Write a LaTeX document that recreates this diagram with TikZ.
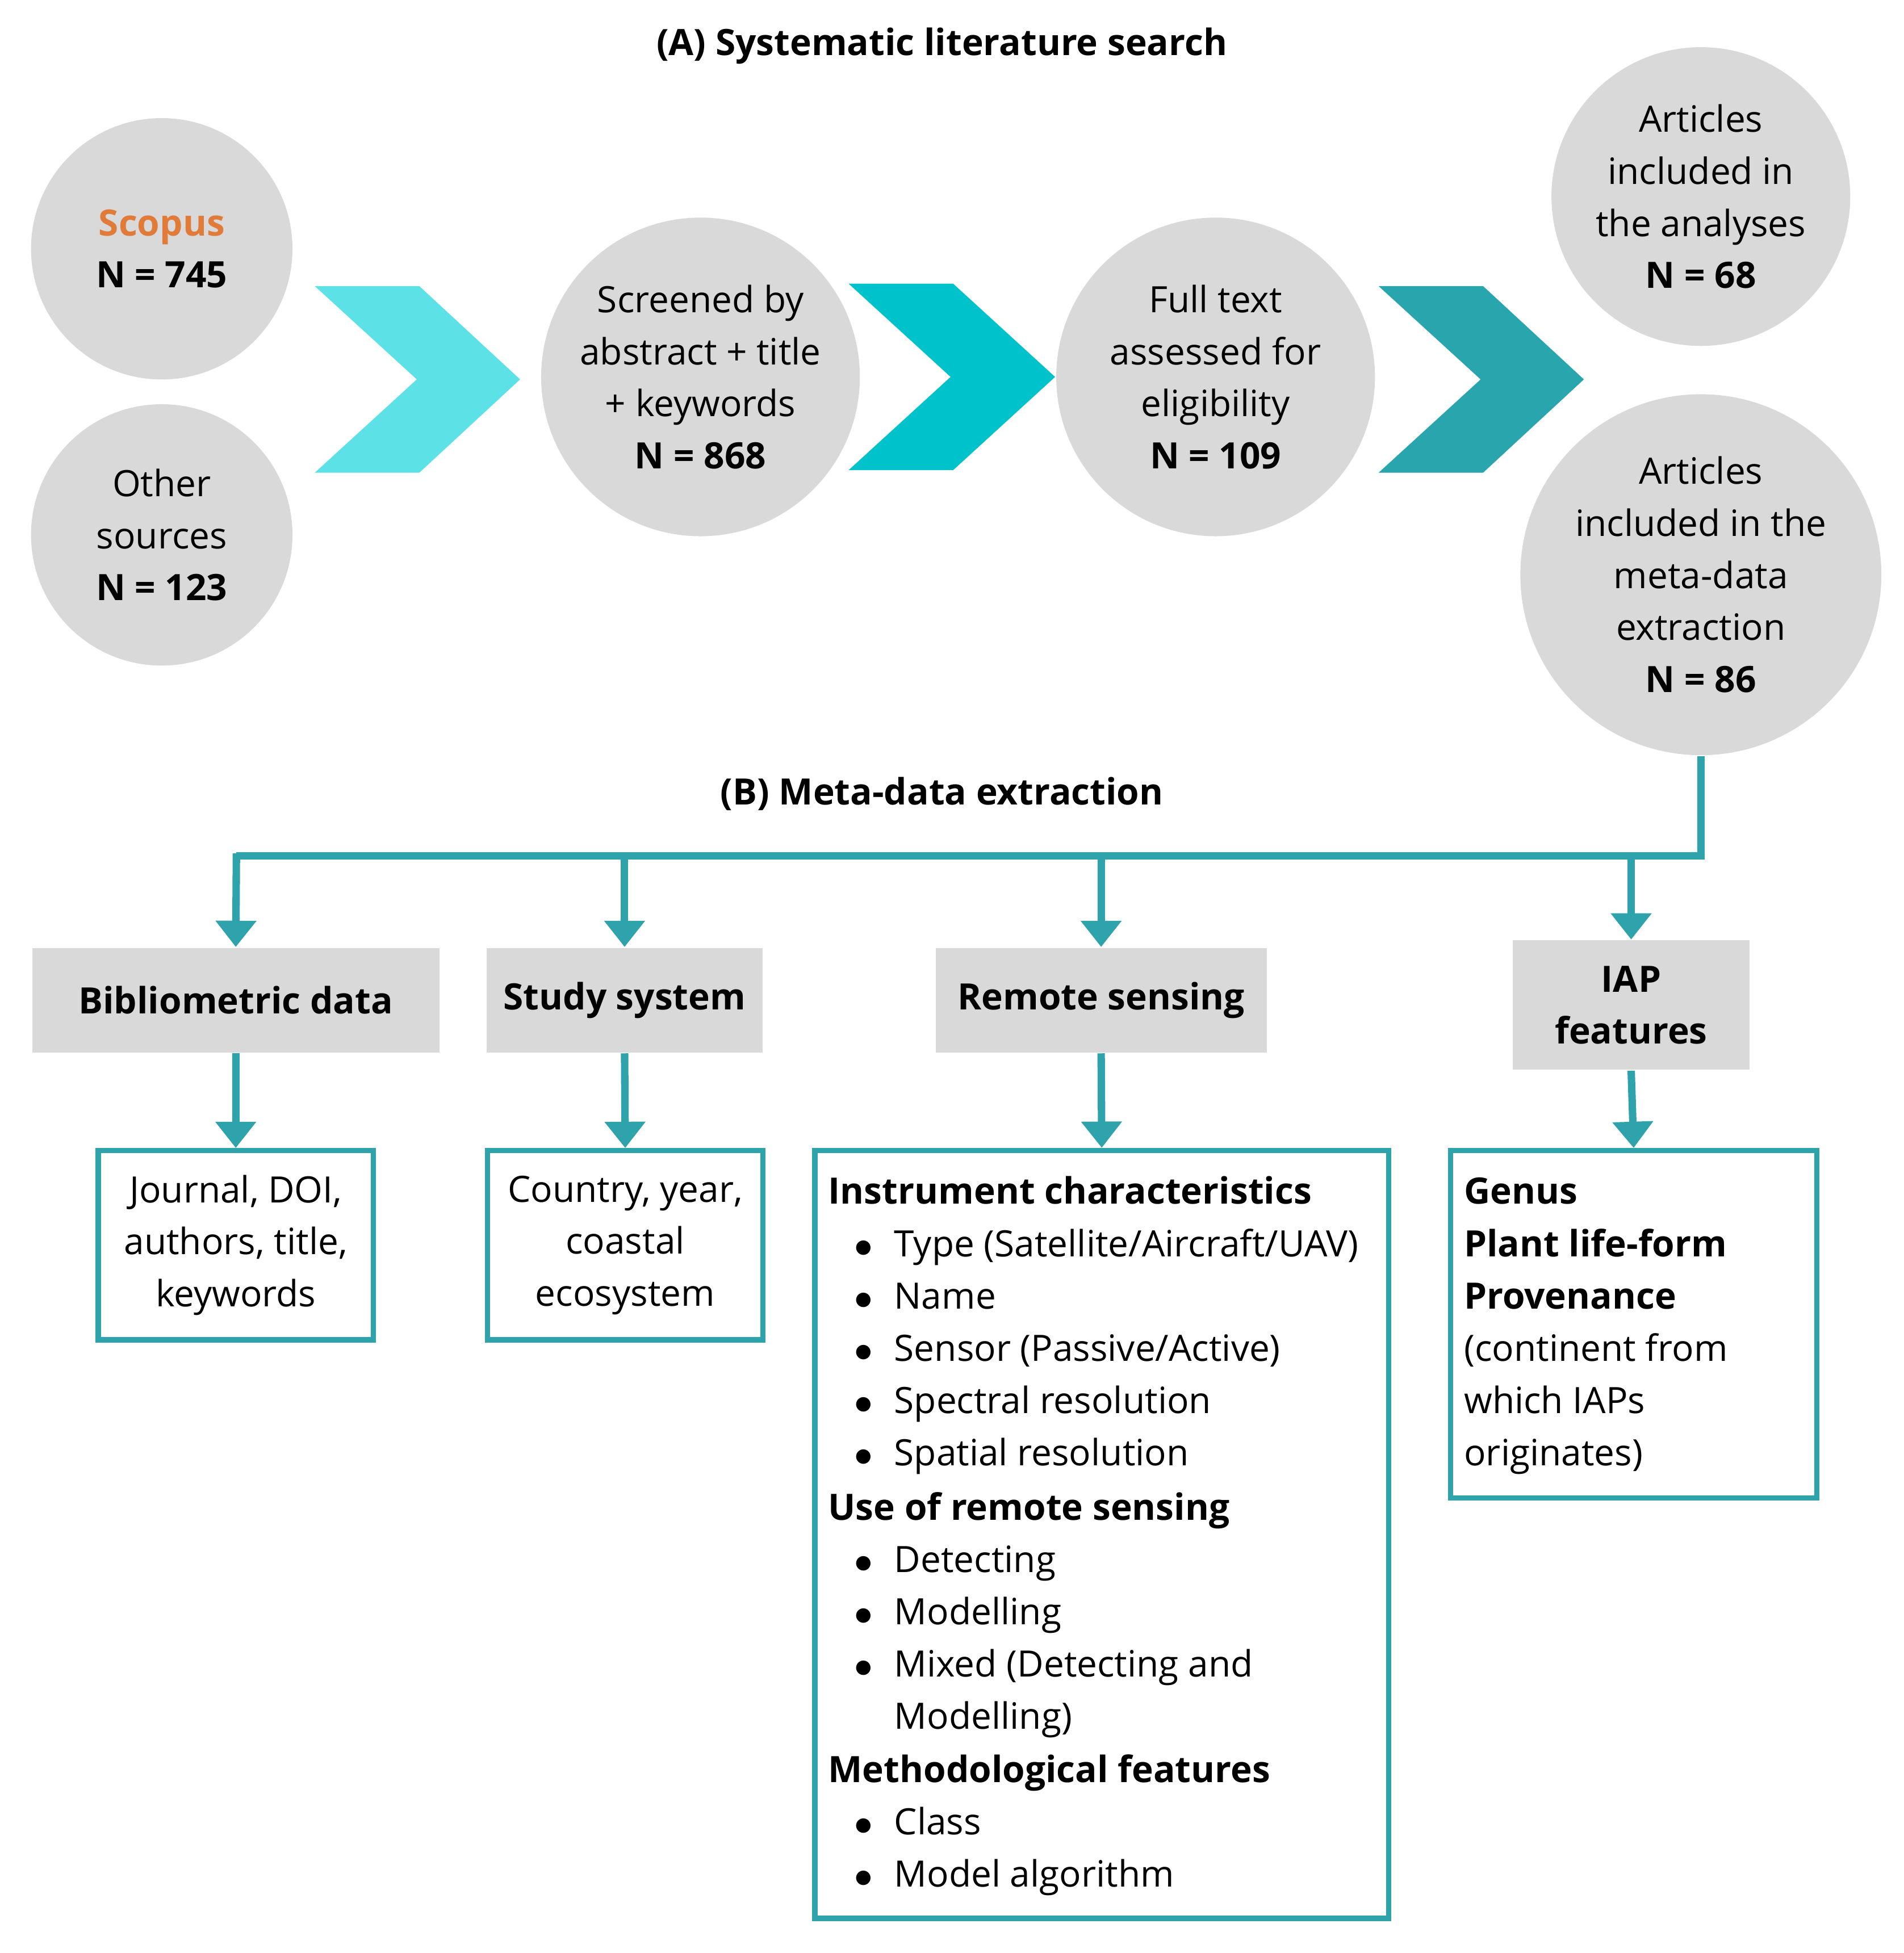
\documentclass[tikz,border=0pt]{standalone}
\usepackage{fontspec}
\setmainfont{Open Sans}
\usetikzlibrary{arrows.meta}
\definecolor{cg}{HTML}{D9D9D9}
\definecolor{tl}{HTML}{2EA3AB}
\definecolor{c1}{HTML}{5CE1E6}
\definecolor{c2}{HTML}{00C2CB}
\definecolor{c3}{HTML}{28A5AD}
\definecolor{org}{HTML}{E07B39}
\begin{document}
\begin{tikzpicture}[x=0.01cm,y=-0.01cm,
  every node/.style={font=\fontsize{8.3}{11.9}\selectfont,inner sep=0},
  circ/.style={circle,fill=cg,align=center},
  gbox/.style={fill=cg,align=center,font=\fontsize{8.3}{11.9}\selectfont\bfseries},
  obox/.style={draw=tl,line width=1.2pt},
  con/.style={draw=tl,line width=1.7pt,-{Triangle[width=9pt,length=6pt]}},
  ln/.style={anchor=base west},
  bt/.style={anchor=base west,font=\fontsize{8.3}{11.9}\selectfont\bfseries}]
\useasboundingbox (0,0) rectangle (1530,1570);
\node[font=\fontsize{8.3}{11.9}\selectfont\bfseries] (ta) at (757,37) {(A) Systematic literature search};
\node[font=\fontsize{8.3}{11.9}\selectfont\bfseries] (tb) at (757,638) {(B) Meta-data extraction};
% circles
\node[circ,minimum size=2.10cm] (sc) at (130,200) {\textcolor{org}{\textbf{Scopus}}\\\textbf{N = 745}};
\node[circ,minimum size=2.10cm] (ot) at (130,430) {Other\\sources\\\textbf{N = 123}};
\node[circ,minimum size=2.56cm] (scr) at (563,303) {Screened by\\abstract + title\\+ keywords\\\textbf{N = 868}};
\node[circ,minimum size=2.56cm] (ft) at (977,303) {Full text\\assessed for\\eligibility\\\textbf{N = 109}};
\node[circ,minimum size=2.40cm] (an) at (1367,158) {Articles\\included in\\the analyses\\\textbf{N = 68}};
\node[circ,minimum size=2.90cm] (md) at (1367,462) {Articles\\included in the\\meta-data\\extraction\\\textbf{N = 86}};
% chevrons
\fill[c1] (253,230)--(337,230)--(418,305)--(337,380)--(253,380)--(335,305)--cycle;
\fill[c2] (682,228)--(766,228)--(848,303)--(766,378)--(682,378)--(764,303)--cycle;
\fill[c3] (1108,230)--(1192,230)--(1273,305)--(1192,380)--(1108,380)--(1190,305)--cycle;
% gray boxes
\node[gbox,minimum width=3.27cm,minimum height=0.84cm] (bib) at (189.5,804) {Bibliometric data};
\node[gbox,minimum width=2.22cm,minimum height=0.84cm] (ss) at (502,804) {Study system};
\node[gbox,minimum width=2.66cm,minimum height=0.84cm] (rs) at (885,804) {Remote sensing};
\node[gbox,minimum width=1.90cm,minimum height=1.04cm] (iap) at (1311,808) {IAP\\features};
% outlined boxes
\node[obox,minimum width=2.21cm,minimum height=1.52cm,align=center] (jr) at (189.5,1001) {Journal, DOI,\\authors, title,\\keywords};
\node[obox,minimum width=2.21cm,minimum height=1.52cm,align=center] (cy) at (502.5,1001) {Country, year,\\coastal\\ecosystem};
\node[obox,minimum width=4.61cm,minimum height=6.17cm] (rb) at (885.5,1233.5) {};
\node[obox,minimum width=2.94cm,minimum height=2.79cm] (ib) at (1313,1064.5) {};
% connectors
\coordinate (j) at (1367,688);
\draw[tl,line width=1.7pt] (md.south) -- (j) -- (190,688);
\draw[con] (190,686) -- (bib.north);
\draw[con] (502,688) -- (ss.north);
\draw[con] (885,688) -- (rs.north);
\draw[con] (1311,688) -- (iap.north);
\draw[con] (bib.south) -- (jr.north);
\draw[con] (ss.south) -- (cy.north);
\draw[con] (rs.south) -- (rb.north);
\draw[con] (iap.south) -- (ib.north);
% remote sensing text
\node[bt] (r1) at (665,968) {Instrument characteristics};
\foreach \y/\t in {1010/{Type (Satellite/Aircraft/UAV)},1052/Name,1094/{Sensor (Passive/Active)},1136/Spectral resolution,1178/Spatial resolution}
  {\node[ln] at (686,\y) {$\bullet$}; \node[ln] at (718,\y) {\t};}
\node[bt] (r2) at (665,1222) {Use of remote sensing};
\foreach \y/\t in {1264/Detecting,1306/Modelling,1348/Mixed (Detecting and}
  {\node[ln] at (686,\y) {$\bullet$}; \node[ln] at (718,\y) {\t};}
\node[ln] (r3) at (718,1390) {Modelling)};
\node[bt] (r4) at (665,1433) {Methodological features};
\foreach \y/\t in {1475/Class,1517/Model algorithm}
  {\node[ln] at (686,\y) {$\bullet$}; \node[ln] at (718,\y) {\t};}
% IAP text
\node[bt] (i1) at (1176,968) {Genus};
\node[bt] (i2) at (1176,1010) {Plant life-form};
\node[bt] (i3) at (1176,1052) {Provenance};
\node[ln] (i4) at (1176,1094) {(continent from};
\node[ln] (i5) at (1176,1136) {which IAPs};
\node[ln] (i6) at (1176,1178) {originates)};
\end{tikzpicture}
\end{document}
